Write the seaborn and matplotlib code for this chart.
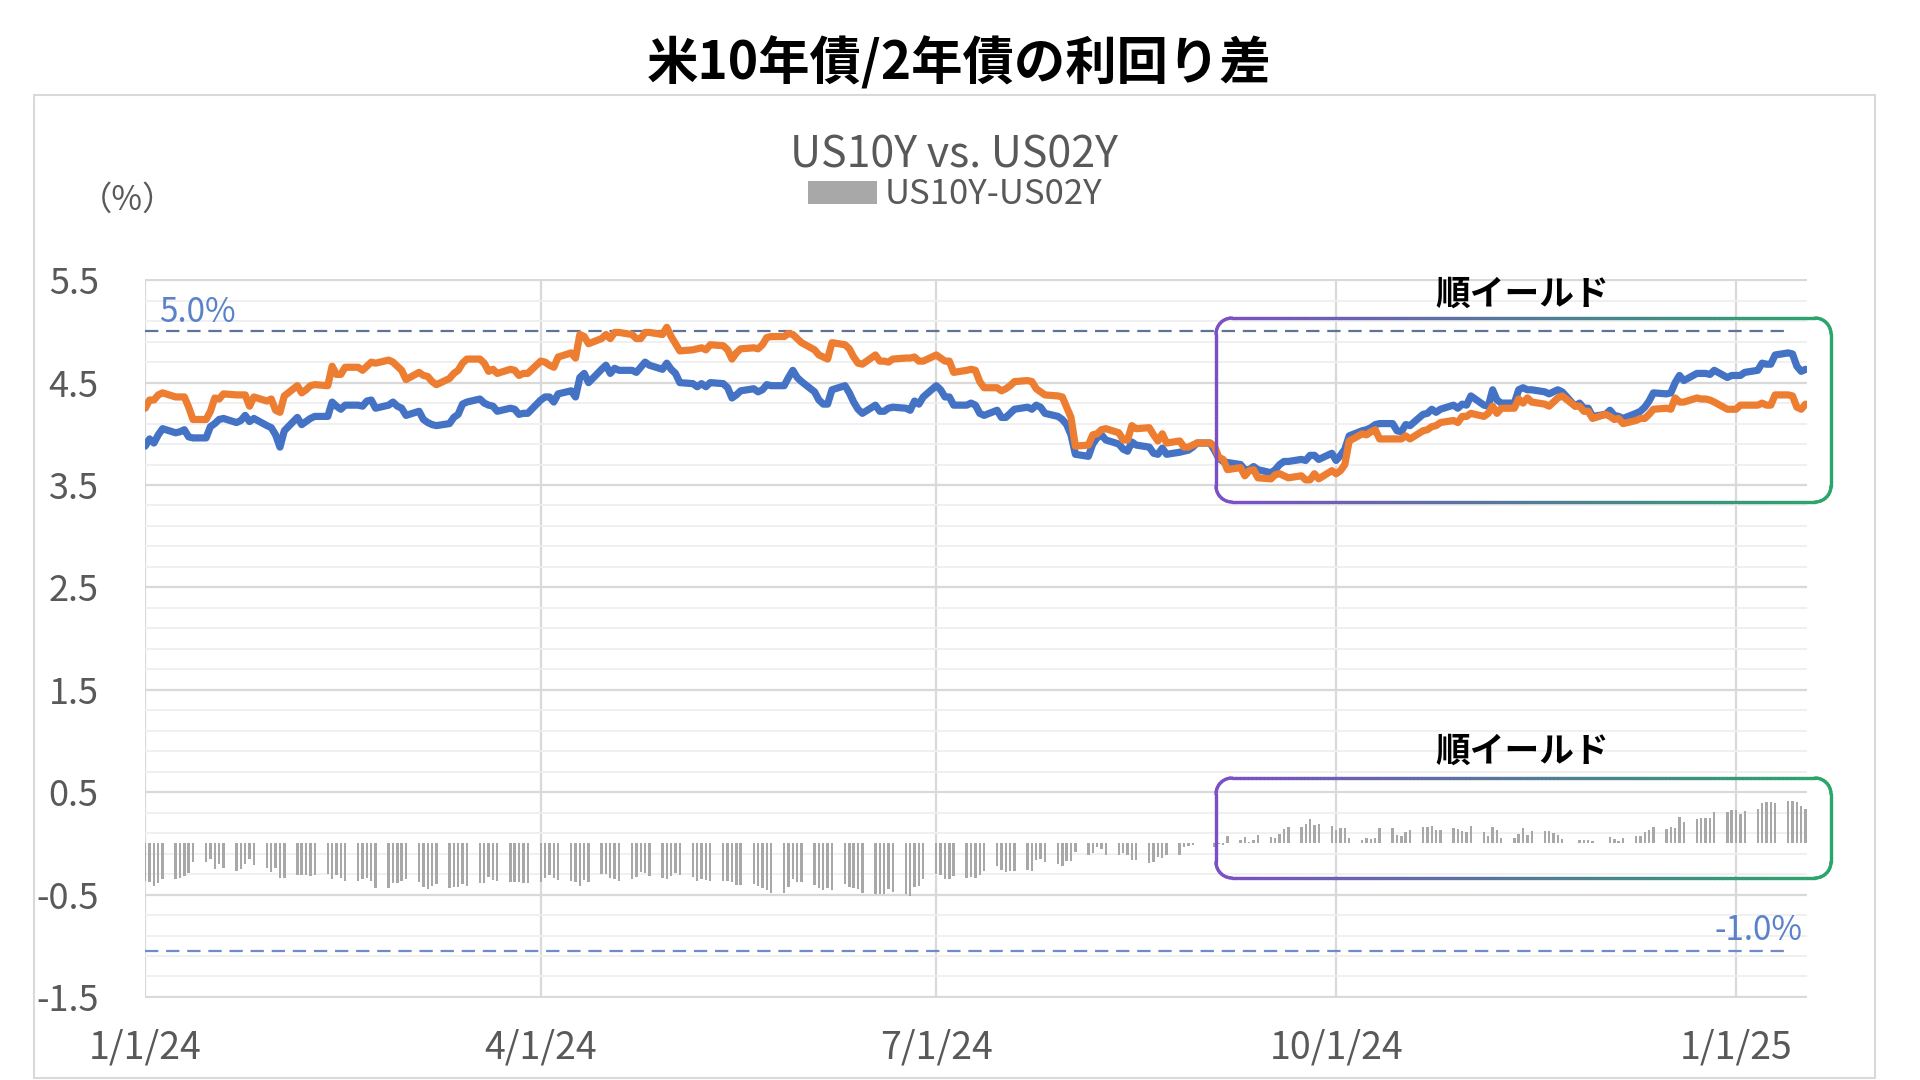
import numpy as np
import pandas as pd
import matplotlib
matplotlib.use("Agg")
import matplotlib.pyplot as plt
import seaborn as sns
from matplotlib.collections import LineCollection
from matplotlib.transforms import IdentityTransform
from matplotlib.patches import Rectangle

# ---------------- data (business days 2024-01-01 .. 2025-01-17) ----------------
us10y = [
    # Jan 2024
    3.88, 3.95, 3.91, 3.99, 4.05, 4.01, 4.02, 4.04, 3.97, 3.96, 3.96, 4.07, 4.10, 4.14, 4.15,
    4.11, 4.13, 4.18, 4.12, 4.15, 4.08, 4.06, 3.99,
    # Feb
    3.87, 4.03, 4.16, 4.09, 4.12, 4.15, 4.17, 4.17, 4.31, 4.27, 4.24, 4.28, 4.28, 4.27, 4.32,
    4.33, 4.25, 4.28, 4.31, 4.27, 4.25,
    # Mar
    4.18, 4.22, 4.14, 4.11, 4.09, 4.08, 4.10, 4.16, 4.19, 4.29, 4.31, 4.34, 4.30, 4.28, 4.27,
    4.22, 4.25, 4.24, 4.19, 4.20, 4.20,
    # Apr
    4.33, 4.36, 4.36, 4.31, 4.39, 4.42, 4.36, 4.55, 4.59, 4.50, 4.63, 4.67, 4.59, 4.64, 4.62,
    4.62, 4.60, 4.65, 4.70, 4.67, 4.63, 4.69,
    # May
    4.63, 4.59, 4.50, 4.49, 4.46, 4.49, 4.46, 4.50, 4.49, 4.45, 4.35, 4.38, 4.42, 4.44, 4.41,
    4.43, 4.48, 4.47, 4.47, 4.55, 4.62, 4.55, 4.51,
    # Jun
    4.41, 4.33, 4.29, 4.29, 4.43, 4.47, 4.40, 4.31, 4.24, 4.20, 4.28, 4.22, 4.22, 4.25, 4.26,
    4.25, 4.23, 4.32, 4.29, 4.36,
    # Jul
    4.47, 4.43, 4.36, 4.36, 4.28, 4.28, 4.30, 4.28, 4.20, 4.18, 4.23, 4.16, 4.16, 4.20, 4.24,
    4.26, 4.24, 4.28, 4.26, 4.20, 4.17, 4.14, 4.09,
    # Aug
    3.99, 3.80, 3.78, 3.90, 3.96, 3.99, 3.94, 3.90, 3.85, 3.83, 3.92, 3.89, 3.87, 3.81, 3.80,
    3.86, 3.80, 3.82, 3.83, 3.84, 3.87, 3.91,
    # Sep
    3.91, 3.84, 3.76, 3.73, 3.72, 3.70, 3.65, 3.65, 3.68, 3.65, 3.62, 3.65, 3.70, 3.73, 3.73,
    3.75, 3.74, 3.79, 3.79, 3.75, 3.81,
    # Oct
    3.74, 3.79, 3.85, 3.98, 4.03, 4.04, 4.06, 4.09, 4.10, 4.10, 4.03, 4.02, 4.09, 4.08, 4.19,
    4.20, 4.24, 4.21, 4.24, 4.28, 4.25, 4.29, 4.28,
    # Nov
    4.37, 4.28, 4.27, 4.43, 4.33, 4.30, 4.30, 4.43, 4.45, 4.43, 4.43, 4.41, 4.39, 4.41, 4.43,
    4.41, 4.27, 4.30, 4.25, 4.25, 4.17,
    # Dec
    4.19, 4.23, 4.18, 4.17, 4.15, 4.20, 4.22, 4.26, 4.32, 4.40, 4.39, 4.40, 4.50, 4.57, 4.52,
    4.59, 4.59, 4.59, 4.58, 4.62, 4.55, 4.57,
    # Jan 2025
    4.57, 4.57, 4.60, 4.62, 4.69, 4.68, 4.68, 4.77, 4.79, 4.78, 4.66, 4.61, 4.63,
]

us02y = [
    # Jan 2024
    4.25, 4.33, 4.33, 4.38, 4.40, 4.36, 4.36, 4.36, 4.26, 4.14, 4.14, 4.22, 4.35, 4.34, 4.39,
    4.38, 4.38, 4.38, 4.27, 4.36, 4.32, 4.34, 4.23,
    # Feb
    4.21, 4.37, 4.47, 4.40, 4.43, 4.47, 4.48, 4.47, 4.66, 4.58, 4.58, 4.65, 4.65, 4.62, 4.66,
    4.70, 4.69, 4.72, 4.70, 4.66, 4.62,
    # Mar
    4.53, 4.60, 4.57, 4.56, 4.51, 4.48, 4.54, 4.59, 4.62, 4.69, 4.73, 4.73, 4.69, 4.61, 4.63,
    4.59, 4.63, 4.62, 4.57, 4.59, 4.59,
    # Apr
    4.71, 4.70, 4.67, 4.65, 4.75, 4.79, 4.74, 4.97, 4.95, 4.88, 4.93, 4.97, 4.93, 4.99, 4.99,
    4.97, 4.93, 4.93, 4.99, 4.99, 4.97, 5.04,
    # May
    4.95, 4.88, 4.81, 4.82, 4.83, 4.84, 4.82, 4.87, 4.86, 4.82, 4.73, 4.79, 4.83, 4.84, 4.83,
    4.87, 4.94, 4.95, 4.95, 4.98, 4.97, 4.93, 4.89,
    # Jun
    4.82, 4.77, 4.75, 4.73, 4.89, 4.87, 4.83, 4.75, 4.69, 4.68, 4.77, 4.71, 4.71, 4.70, 4.73,
    4.74, 4.74, 4.75, 4.71, 4.71,
    # Jul
    4.77, 4.74, 4.71, 4.71, 4.60, 4.62, 4.63, 4.62, 4.51, 4.45, 4.45, 4.42, 4.44, 4.47, 4.51,
    4.52, 4.51, 4.44, 4.41, 4.38, 4.37, 4.36, 4.26,
    # Aug
    4.16, 3.88, 3.89, 3.99, 4.00, 4.04, 4.05, 4.01, 3.94, 3.94, 4.08, 4.05, 4.06, 3.99, 3.93,
    4.00, 3.91, 3.93, 3.87, 3.87, 3.89, 3.91,
    # Sep
    3.91, 3.88, 3.77, 3.75, 3.65, 3.67, 3.59, 3.64, 3.65, 3.57, 3.56, 3.60, 3.61, 3.59, 3.57,
    3.59, 3.55, 3.55, 3.61, 3.56, 3.64,
    # Oct
    3.61, 3.64, 3.70, 3.93, 4.00, 3.99, 4.02, 4.04, 3.95, 3.95, 3.95, 3.95, 3.98, 3.95, 4.03,
    4.04, 4.07, 4.08, 4.11, 4.13, 4.11, 4.17, 4.17,
    # Nov
    4.20, 4.17, 4.20, 4.27, 4.20, 4.25, 4.25, 4.34, 4.30, 4.35, 4.31, 4.29, 4.27, 4.31, 4.35,
    4.37, 4.27, 4.27, 4.22, 4.22, 4.15,
    # Dec
    4.19, 4.17, 4.14, 4.15, 4.10, 4.13, 4.15, 4.15, 4.19, 4.24, 4.25, 4.24, 4.35, 4.31, 4.31,
    4.35, 4.34, 4.34, 4.33, 4.31, 4.24, 4.24,
    # Jan 2025
    4.24, 4.28, 4.28, 4.28, 4.30, 4.28, 4.28, 4.38, 4.38, 4.37, 4.26, 4.24, 4.29,
]

x_tick_dates = ["2024-01-01", "2024-04-01", "2024-07-01", "2024-10-01", "2025-01-01"]
x_tick_labels = ["1/1/24", "4/1/24", "7/1/24", "10/1/24", "1/1/25"]
y_ticks = [-1.5, -0.5, 0.5, 1.5, 2.5, 3.5, 4.5, 5.5]
ref_hi, ref_lo = 5.0, -1.05

dates = pd.bdate_range("2024-01-01", "2025-01-17")
assert len(dates) == len(us10y) == len(us02y), (len(dates), len(us10y), len(us02y))
df = pd.DataFrame({"date": dates, "US10Y": us10y, "US02Y": us02y})
df["spread"] = df["US10Y"] - df["US02Y"]

# ---------------- style ----------------
BLUE = "#4472C4"
ORANGE = "#ED7D31"
BAR_GRAY = "#a8a8a8"
TXT_GRAY = "#595959"
GRID = "#d9d9d9"

sns.set_theme(style="white")
plt.rcParams["font.family"] = ["Noto Sans CJK JP", "DejaVu Sans"]

W, H = 1920, 1080
fig = plt.figure(figsize=(19.2, 10.8), dpi=100)
fig.patch.set_facecolor("white")


def fx(x):
    return x / W


def fy(y):
    return 1 - y / H


ax_l, ax_r, ax_t, ax_b = 144.5, 1807, 279.2, 998
ax = fig.add_axes([fx(ax_l), fy(ax_b), (ax_r - ax_l) / W, (ax_b - ax_t) / H])
ax.set_facecolor("white")

bars = ax.bar(df["date"], df["spread"], width=0.55, color=BAR_GRAY, zorder=2,
              label="US10Y-US02Y", linewidth=0)
sns.lineplot(data=df, x="date", y="US10Y", color=BLUE, linewidth=5.2, ax=ax, zorder=5,
             legend=False)
sns.lineplot(data=df, x="date", y="US02Y", color=ORANGE, linewidth=5.2, ax=ax, zorder=6,
             legend=False)
for ln in ax.get_lines():
    ln.set_solid_joinstyle("round")
    ln.set_solid_capstyle("round")
if ax.get_legend() is not None:
    ax.get_legend().remove()

ax.axhline(ref_hi, xmin=0, xmax=0.987, color="#5f7399", lw=1.6, dashes=(6, 3.5), zorder=3)
ax.axhline(ref_lo, xmin=0, xmax=0.987, color="#6f8cc8", lw=1.6, dashes=(6, 3.5), zorder=3)

ax.set_xlim(pd.Timestamp("2024-01-01") - pd.Timedelta(hours=4),
            pd.Timestamp("2025-01-17") + pd.Timedelta(hours=8))
ax.set_ylim(-1.51, 5.51)
ax.set_xticks(pd.to_datetime(x_tick_dates))
ax.set_xticklabels(x_tick_labels)
ax.set_yticks(y_ticks)
ax.set_yticklabels([f"{v:.1f}" for v in y_ticks])
ax.set_yticks(np.arange(-1.3, 5.4, 0.2), minor=True)
ax.set_xlabel("")
ax.set_ylabel("")
ax.tick_params(axis="both", which="both", length=0, colors=TXT_GRAY)
ax.tick_params(axis="y", labelsize=26, pad=33)
ax.tick_params(axis="x", labelsize=27, pad=22)
ax.grid(True, which="major", axis="y", color=GRID, lw=1.6)
ax.grid(True, which="minor", axis="y", color="#efefef", lw=1.3)
ax.grid(True, which="major", axis="x", color=GRID, lw=1.6)
ax.set_axisbelow(True)
for s in ax.spines.values():
    s.set_visible(False)

# ---------------- texts ----------------
fig.text(fx(959), fy(64), "米10年債/2年債の利回り差", ha="center", va="center",
         fontsize=37, fontweight="bold", color="black")
fig.text(fx(954), fy(155), "US10Y vs. US02Y", ha="center", va="center",
         fontsize=31, color=TXT_GRAY)
fig.legend(handles=[bars], labels=["US10Y-US02Y"], loc="center",
           bbox_to_anchor=(fx(955), fy(195)), frameon=False, fontsize=25,
           handlelength=2.0, handleheight=0.66, handletextpad=0.2,
           labelcolor=TXT_GRAY, borderpad=0, borderaxespad=0)
fig.text(fx(127), fy(200), "（%）", ha="center", va="center", fontsize=24, color=TXT_GRAY)
fig.text(fx(159), fy(312), "5.0%", ha="left", va="center", fontsize=24, color="#5b82c8")
fig.text(fx(1803), fy(931), "-1.0%", ha="right", va="center", fontsize=24, color="#5b82c8")
fig.text(fx(1522), fy(294), "順イールド", ha="center", va="center", fontsize=25,
         fontweight="bold", color="black")
fig.text(fx(1522), fy(751), "順イールド", ha="center", va="center", fontsize=25,
         fontweight="bold", color="black")

# ---------------- outer frame ----------------
fig.add_artist(Rectangle((34, H - 1078), 1841, 983, transform=IdentityTransform(),
                         fill=False, edgecolor="#d9d9d9", lw=1.5))


# ---------------- gradient rounded boxes ----------------
def gradient_box(x0, y0, x1, y1, r=16, c0=(0.49, 0.31, 0.78), c1=(0.17, 0.65, 0.42)):
    L, R, B, T = x0, x1, H - y1, H - y0
    pts = []
    for (cx, cy, a0, a1) in [(L + r, B + r, 180, 270), (R - r, B + r, 270, 360),
                             (R - r, T - r, 0, 90), (L + r, T - r, 90, 180)]:
        for a in np.linspace(a0, a1, 12):
            t = np.deg2rad(a)
            pts.append((cx + r * np.cos(t), cy + r * np.sin(t)))
    pts.append(pts[0])
    dense = []
    for p, q in zip(pts[:-1], pts[1:]):
        n = max(1, int(np.hypot(q[0] - p[0], q[1] - p[1]) / 4))
        for k in range(n):
            dense.append((p[0] + (q[0] - p[0]) * k / n, p[1] + (q[1] - p[1]) * k / n))
    dense.append(pts[-1])
    dense = np.array(dense)
    segs = np.stack([dense[:-1], dense[1:]], axis=1)
    mid = segs[:, :, 0].mean(axis=1)
    t = np.clip((mid - L) / (R - L), 0, 1)[:, None]
    cols = (1 - t) * np.array(c0) + t * np.array(c1)
    lc = LineCollection(segs, colors=cols, linewidths=2.4, transform=IdentityTransform(),
                        capstyle="round")
    fig.add_artist(lc)


gradient_box(1216, 318, 1831, 502)
gradient_box(1216, 778, 1831, 878)

fig.savefig("out.png", dpi=100, facecolor="white")
